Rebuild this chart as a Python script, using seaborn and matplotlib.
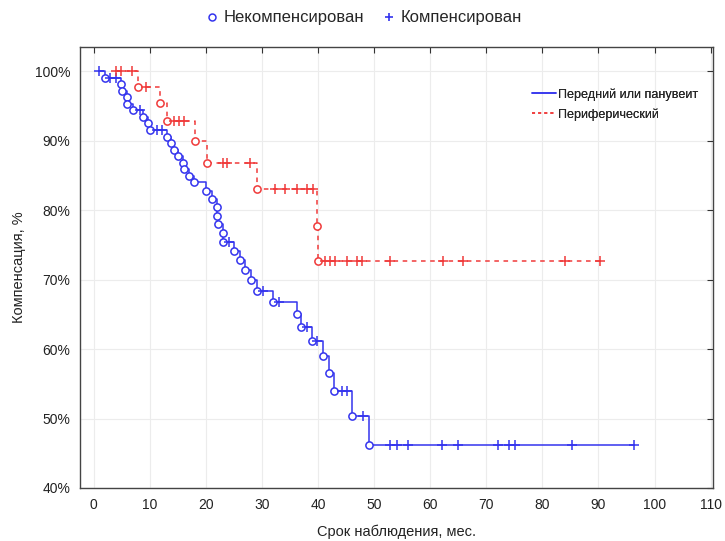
import numpy as np
import pandas as pd
import matplotlib
matplotlib.use('Agg')
import matplotlib.pyplot as plt
import seaborn as sns
from matplotlib.lines import Line2D
from matplotlib.ticker import FuncFormatter

# Передний или панувеит: event times / survival after each event, censored times
ant_start = 1.0
ant_event_t = [2.0, 4.9, 5.0, 5.9, 6.0, 7.0, 8.8, 9.6, 10.0,
               13.0, 13.8, 14.3, 15.0, 15.9, 16.1, 17.0, 17.9,
               20.0, 21.1, 21.9, 22.0, 22.1, 23.0, 23.1,
               25.0, 26.1, 27.0, 28.0, 29.1, 32.0, 36.3, 37.0, 38.9,
               40.9, 42.0, 42.9, 46.1, 49.1]
ant_event_s = [99.1, 98.2, 97.2, 96.3, 95.3, 94.4, 93.4, 92.5, 91.5,
               90.6, 89.7, 88.7, 87.8, 86.8, 85.9, 84.9, 84.0,
               82.8, 81.6, 80.4, 79.2, 78.0, 76.7, 75.4,
               74.1, 72.8, 71.4, 69.9, 68.4, 66.8, 65.1, 63.2, 61.2,
               59.0, 56.5, 54.0, 50.4, 46.2]
ant_cens_t = [1.0, 2.9, 3.9, 8.2, 11.3, 12.1, 24.1, 30.2, 33.0, 38.0, 39.8,
              44.3, 45.2, 48.0, 52.9, 54.1, 56.1, 62.1, 65.0, 72.1, 74.1,
              75.2, 85.2, 96.3]

# Периферический
per_start = 3.9
per_event_t = [7.9, 11.8, 13.0, 18.0, 20.2, 29.1, 39.8, 40.0]
per_event_s = [97.7, 95.4, 92.8, 89.9, 86.8, 83.0, 77.8, 72.7]
per_cens_t = [3.9, 4.8, 6.8, 9.3, 14.3, 15.2, 16.1, 23.0, 23.8, 27.9,
              32.3, 34.1, 36.3, 38.0, 39.1, 41.3, 42.1, 43.0, 45.2, 47.0,
              47.9, 52.9, 62.3, 65.9, 84.1, 90.2]

group_labels = ['Передний или панувеит', 'Периферический']
marker_labels = ['Некомпенсирован', 'Компенсирован']
x_ticks = list(range(0, 111, 10))
y_ticks = list(range(40, 101, 10))

blue = '#3434ee'
red = '#f03a3a'


def level_at(times, levels, t):
    idx = np.searchsorted(times, t, side='right') - 1
    return 100.0 if idx < 0 else levels[idx]


sns.set_theme(style='whitegrid')
plt.rcParams['font.family'] = ['Liberation Sans', 'DejaVu Sans']

fig = plt.figure(figsize=(7.25, 5.41), dpi=100)
ax = fig.add_axes([0.110, 0.098, 0.874, 0.815])

curves = [
    (ant_start, ant_event_t, ant_event_s, ant_cens_t, blue, '-'),
    (per_start, per_event_t, per_event_s, per_cens_t, red, (0, (3, 3))),
]

for start, ev_t, ev_s, cens_t, color, ls in curves:
    end_t = max(cens_t[-1], ev_t[-1])
    step = pd.DataFrame({'t': [start] + ev_t + [end_t],
                         's': [100.0] + ev_s + [ev_s[-1]]})
    sns.lineplot(data=step, x='t', y='s', drawstyle='steps-post',
                 estimator=None, sort=False, color=color, linestyle=ls,
                 linewidth=1.1, legend=False, ax=ax)
    ax.plot(ev_t, ev_s, linestyle='none', marker='o', markersize=5.2,
            markerfacecolor='white', markeredgecolor=color, markeredgewidth=1.1)
    cens_s = [level_at(ev_t, ev_s, c) for c in cens_t]
    ax.plot(cens_t, cens_s, linestyle='none', marker='+', markersize=6.5,
            markeredgecolor=color, markeredgewidth=1.1)

ax.set_xlim(-2.5, 110.5)
ax.set_ylim(40, 103.5)
ax.set_xticks(x_ticks)
ax.set_yticks(y_ticks)
ax.yaxis.set_major_formatter(FuncFormatter(lambda v, p: f'{int(v)}%'))
ax.tick_params(direction='in', length=4, width=0.8, top=True, right=True,
               labelsize=10, colors='#333333', pad=7)
ax.tick_params(axis='x', labelcolor='#222222')
ax.tick_params(axis='y', labelcolor='#222222')
ax.grid(True, color='#ececec', linewidth=0.8)
for sp in ax.spines.values():
    sp.set_color('#444444')
    sp.set_linewidth(1.0)

ax.set_xlabel('Срок наблюдения, мес.', fontsize=10.5, color='#222222', labelpad=9)
ax.set_ylabel('Компенсация, %', fontsize=10.5, color='#222222', labelpad=6)

group_handles = [Line2D([], [], color=blue, linewidth=1.1),
                 Line2D([], [], color=red, linewidth=1.1, linestyle=(0, (2, 2)))]
leg1 = ax.legend(group_handles, group_labels, loc='upper left',
                 bbox_to_anchor=(0.705, 0.918), frameon=False, fontsize=9.1,
                 handlelength=1.9, handletextpad=0.2, labelspacing=0.6,
                 borderaxespad=0)
ax.add_artist(leg1)

marker_handles = [Line2D([], [], linestyle='none', marker='o', markersize=5,
                         markerfacecolor='none', markeredgecolor=blue, markeredgewidth=1.1),
                  Line2D([], [], linestyle='none', marker='+', markersize=6,
                         markeredgecolor=blue, markeredgewidth=1.2)]
fig.legend(marker_handles, marker_labels, loc='center', bbox_to_anchor=(0.5, 0.967),
           ncol=2, frameon=False, fontsize=12, handletextpad=0.2, columnspacing=1.0,
           handlelength=1.0)

fig.savefig('out.png', dpi=100)
